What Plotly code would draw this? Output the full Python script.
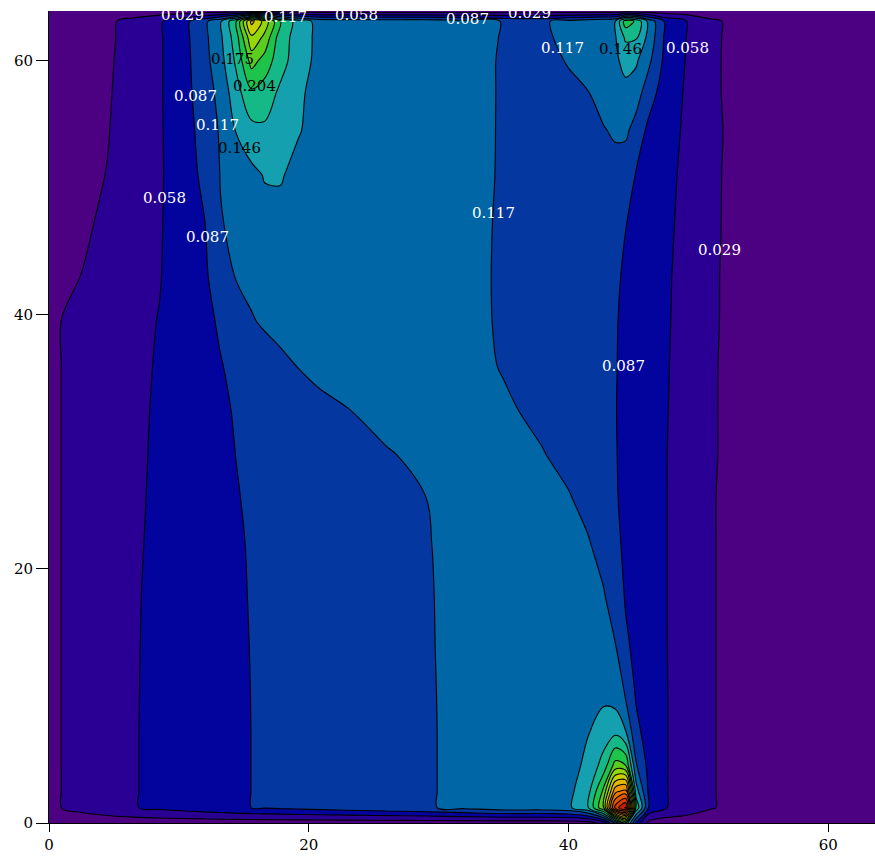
import plotly.graph_objects as go

# Grid node positions (data units) on which the field is sampled
x_nodes = [0, 1, 2.5, 4.5, 6.5, 8.5, 10.5, 12, 13.2, 14.4, 15.6, 16.6, 17.8, 19.2, 20.8,
           23, 26, 29, 32, 35, 38, 40, 41.5, 42.7, 43.6, 44.4, 45.2, 46.2, 47.5, 49, 51, 53, 63.6]
y_nodes = [0, 1.2, 2.5, 4.5, 7, 10, 14, 18, 22, 25.5, 29, 32.5, 36, 39.5, 43, 47, 51,
           54.5, 57.5, 60, 61.8, 63.1, 63.9]

# Field values, one row per y node (bottom to top)
row_0 = [0.012, 0.012, 0.012, 0.012, 0.012, 0.012, 0.012, 0.012, 0.012, 0.012, 0.012, 0.012, 0.012, 0.012, 0.012,
         0.012, 0.012, 0.012, 0.012, 0.012, 0.012, 0.012, 0.015, 0.040, 0.120, 0.200, 0.080, 0.020, 0.012, 0.012, 0.012, 0.012, 0.012]
row_1_2 = [0.015, 0.030, 0.0367, 0.0467, 0.0568, 0.0640, 0.0707, 0.0757, 0.0797, 0.0837, 0.0876, 0.0895, 0.0919, 0.0946, 0.0977,
           0.1020, 0.1078, 0.1137, 0.1234, 0.134, 0.134, 0.140, 0.172, 0.260, 0.450, 0.500, 0.200, 0.082, 0.0595, 0.0469, 0.0307, 0.022, 0.018]
row_2_5 = [0.015, 0.030, 0.0367, 0.0467, 0.0568, 0.0640, 0.0707, 0.0757, 0.0797, 0.0837, 0.0876, 0.0895, 0.0919, 0.0946, 0.0977,
           0.1020, 0.1078, 0.1137, 0.1234, 0.134, 0.134, 0.138, 0.165, 0.240, 0.370, 0.390, 0.160, 0.080, 0.0595, 0.0469, 0.0307, 0.022, 0.018]
row_4_5 = [0.015, 0.030, 0.0367, 0.0467, 0.0568, 0.0640, 0.0707, 0.0757, 0.0797, 0.0837, 0.0876, 0.0895, 0.0919, 0.0946, 0.0977,
           0.1020, 0.1078, 0.1137, 0.1234, 0.134, 0.134, 0.137, 0.151, 0.188, 0.245, 0.235, 0.120, 0.078, 0.0595, 0.0469, 0.0307, 0.022, 0.018]
row_7 = [0.015, 0.030, 0.0367, 0.0467, 0.0568, 0.0640, 0.0707, 0.0757, 0.0797, 0.0837, 0.0876, 0.0895, 0.0919, 0.0946, 0.0977,
         0.1020, 0.1078, 0.1137, 0.1234, 0.134, 0.134, 0.138, 0.145, 0.160, 0.172, 0.150, 0.095, 0.076, 0.0595, 0.0469, 0.0307, 0.022, 0.018]
row_10 = [0.015, 0.030, 0.0366, 0.0466, 0.0566, 0.0639, 0.0707, 0.0758, 0.0798, 0.0839, 0.0877, 0.0896, 0.0920, 0.0947, 0.0978,
          0.1021, 0.1079, 0.1138, 0.1237, 0.134, 0.134, 0.136, 0.138, 0.140, 0.132, 0.115, 0.085, 0.0745, 0.0595, 0.0469, 0.0307, 0.022, 0.018]
row_14 = [0.015, 0.030, 0.0365, 0.0464, 0.0563, 0.0638, 0.0708, 0.0760, 0.0801, 0.0843, 0.0880, 0.0899, 0.0923, 0.0950, 0.0981,
          0.1024, 0.1082, 0.1141, 0.1243, 0.134, 0.134, 0.1337, 0.1270, 0.1216, 0.1175, 0.0916, 0.0808, 0.0714, 0.0592, 0.0469, 0.0307, 0.022, 0.018]
row_18 = [0.015, 0.030, 0.0364, 0.0461, 0.0559, 0.0637, 0.0709, 0.0763, 0.0806, 0.0849, 0.0884, 0.0903, 0.0926, 0.0953, 0.0984,
          0.1027, 0.1085, 0.1143, 0.1247, 0.134, 0.134, 0.1306, 0.1238, 0.1184, 0.1020, 0.0849, 0.0783, 0.0699, 0.0591, 0.0469, 0.0307, 0.022, 0.018]
row_22 = [0.015, 0.030, 0.0362, 0.0456, 0.0550, 0.0632, 0.0708, 0.0764, 0.0810, 0.0855, 0.0888, 0.0907, 0.0930, 0.0958, 0.0989,
          0.1032, 0.1090, 0.1148, 0.1261, 0.134, 0.134, 0.1256, 0.1188, 0.1058, 0.0920, 0.0835, 0.0772, 0.0693, 0.0591, 0.0469, 0.0307, 0.022, 0.018]
row_25_5 = [0.015, 0.030, 0.0359, 0.0451, 0.0542, 0.0627, 0.0708, 0.0769, 0.0817, 0.0866, 0.0894, 0.0914, 0.0938, 0.0966, 0.0998,
            0.1042, 0.1102, 0.1162, 0.1292, 0.134, 0.1279, 0.1189, 0.1078, 0.0971, 0.0892, 0.0828, 0.0767, 0.0690, 0.0591, 0.0469, 0.0307, 0.022, 0.018]
row_29 = [0.015, 0.030, 0.0357, 0.0446, 0.0534, 0.0622, 0.0709, 0.0774, 0.0826, 0.0876, 0.0903, 0.0926, 0.0953, 0.0985, 0.1021,
          0.1071, 0.1139, 0.1247, 0.134, 0.1315, 0.1180, 0.1076, 0.0996, 0.0932, 0.0885, 0.0828, 0.0767, 0.0690, 0.0591, 0.0473, 0.0315, 0.022, 0.018]
row_32_5 = [0.015, 0.030, 0.0355, 0.0441, 0.0527, 0.0616, 0.0712, 0.0783, 0.0841, 0.0890, 0.0927, 0.0958, 0.0995, 0.1039, 0.1088,
            0.1157, 0.1288, 0.134, 0.134, 0.1211, 0.1091, 0.1016, 0.0960, 0.0915, 0.0881, 0.0829, 0.0770, 0.0695, 0.0598, 0.0478, 0.0315, 0.022, 0.018]
row_36 = [0.015, 0.030, 0.0354, 0.0437, 0.0520, 0.0605, 0.0718, 0.0799, 0.0863, 0.0926, 0.0989, 0.1041, 0.1103, 0.1175, 0.1247,
          0.134, 0.134, 0.134, 0.1270, 0.1145, 0.1053, 0.0993, 0.0947, 0.0910, 0.0883, 0.0837, 0.0777, 0.0702, 0.0605, 0.0483, 0.0316, 0.022, 0.018]
row_39_5 = [0.015, 0.030, 0.0352, 0.0433, 0.0514, 0.0592, 0.0725, 0.0818, 0.0904, 0.1025, 0.1146, 0.1202, 0.1256, 0.1319, 0.134,
            0.134, 0.134, 0.134, 0.1247, 0.1132, 0.1046, 0.0989, 0.0946, 0.0911, 0.0885, 0.0844, 0.0784, 0.0710, 0.0613, 0.0491, 0.0324, 0.022, 0.018]
row_43 = [0.015, 0.0209, 0.0296, 0.0393, 0.0491, 0.0570, 0.0732, 0.0839, 0.1002, 0.1180, 0.1234, 0.1279, 0.1333, 0.135, 0.135,
          0.134, 0.134, 0.134, 0.1243, 0.1130, 0.1046, 0.0991, 0.0949, 0.0916, 0.0891, 0.0859, 0.0797, 0.0721, 0.0621, 0.0497, 0.0325, 0.022, 0.018]
row_47 = [0.015, 0.0189, 0.0248, 0.0344, 0.0455, 0.0560, 0.0741, 0.0866, 0.1150, 0.1216, 0.128, 0.136, 0.139, 0.137, 0.135,
          0.134, 0.134, 0.134, 0.1247, 0.1133, 0.1051, 0.0997, 0.0956, 0.0923, 0.0899, 0.0877, 0.0819, 0.0740, 0.0638, 0.0512, 0.0335, 0.022, 0.018]
row_51 = [0.015, 0.0182, 0.0230, 0.0298, 0.0425, 0.0550, 0.0754, 0.0941, 0.1175, 0.126, 0.138, 0.1475, 0.1475, 0.140, 0.136,
          0.134, 0.134, 0.134, 0.1256, 0.1140, 0.1090, 0.1080, 0.1080, 0.1085, 0.1070, 0.0990, 0.0860, 0.0771, 0.0660, 0.0526, 0.0338, 0.022, 0.018]
row_54_5 = [0.015, 0.0179, 0.0223, 0.0280, 0.0410, 0.0552, 0.0773, 0.0984, 0.120, 0.147, 0.166, 0.170, 0.160, 0.147, 0.139,
            0.135, 0.134, 0.134, 0.1265, 0.1140, 0.1080, 0.1075, 0.1100, 0.1150, 0.1200, 0.122, 0.105, 0.080, 0.0697, 0.0544, 0.0349, 0.022, 0.018]
row_57_5 = [0.015, 0.0178, 0.0221, 0.0268, 0.0400, 0.0553, 0.0789, 0.1041, 0.125, 0.163, 0.199, 0.190, 0.170, 0.150, 0.137,
            0.135, 0.134, 0.134, 0.127, 0.1140, 0.1085, 0.1120, 0.1160, 0.1260, 0.1350, 0.1400, 0.1300, 0.100, 0.072, 0.0562, 0.0335, 0.022, 0.018]
row_60 = [0.015, 0.0177, 0.0218, 0.0258, 0.0390, 0.0552, 0.0798, 0.1076, 0.135, 0.180, 0.245, 0.222, 0.186, 0.160, 0.137,
          0.135, 0.134, 0.134, 0.127, 0.1140, 0.1100, 0.1180, 0.1260, 0.1340, 0.1420, 0.1520, 0.1500, 0.122, 0.078, 0.0580, 0.0335, 0.022, 0.018]
row_61_8 = [0.015, 0.0176, 0.0215, 0.0250, 0.0380, 0.0550, 0.0808, 0.1099, 0.140, 0.190, 0.285, 0.255, 0.188, 0.163, 0.137,
            0.135, 0.134, 0.134, 0.127, 0.1150, 0.1120, 0.1230, 0.1320, 0.1400, 0.143, 0.180, 0.178, 0.135, 0.080, 0.0590, 0.0338, 0.022, 0.018]
row_63_1 = [0.015, 0.0176, 0.0214, 0.0245, 0.0372, 0.0545, 0.0805, 0.1099, 0.142, 0.200, 0.330, 0.280, 0.205, 0.160, 0.137,
            0.135, 0.134, 0.134, 0.127, 0.1155, 0.1130, 0.1250, 0.1330, 0.1400, 0.1440, 0.220, 0.200, 0.135, 0.081, 0.0605, 0.034, 0.022, 0.018]
row_63_9 = [0.012, 0.012, 0.012, 0.012, 0.012, 0.012, 0.012, 0.012, 0.012, 0.012, 0.012, 0.012, 0.012, 0.012, 0.012,
            0.012, 0.012, 0.012, 0.012, 0.012, 0.012, 0.012, 0.012, 0.012, 0.012, 0.012, 0.012, 0.012, 0.012, 0.012, 0.012, 0.012, 0.012]

z_rows = [row_0, row_1_2, row_2_5, row_4_5, row_7, row_10, row_14, row_18, row_22, row_25_5,
          row_29, row_32_5, row_36, row_39_5, row_43, row_47, row_51, row_54_5, row_57_5,
          row_60, row_61_8, row_63_1, row_63_9]

for r in z_rows:
    if len(r) != len(x_nodes):
        raise ValueError("row length mismatch: %d" % len(r))

# Contour levels: 0.029, 0.058, 0.087, 0.117, 0.146, ... (20 levels)
level_step = 0.029145
n_levels = 20

# Fill colour of each band, from below the first level upwards
band_colors = [
    "rgb(76,0,130)", "rgb(42,0,148)", "rgb(3,3,158)", "rgb(5,55,160)", "rgb(0,102,165)",
    "rgb(20,160,175)", "rgb(20,185,135)", "rgb(30,195,75)", "rgb(90,205,30)", "rgb(150,215,10)",
    "rgb(200,210,0)", "rgb(225,185,0)", "rgb(235,150,0)", "rgb(235,120,0)", "rgb(225,90,0)",
    "rgb(215,60,0)", "rgb(200,35,0)", "rgb(185,15,0)", "rgb(165,0,0)", "rgb(145,0,0)", "rgb(125,0,0)",
]

# Level labels: which level (multiple of level_step) and where its text sits
label_level = [1, 4, 2, 3, 1, 6, 7, 3, 4, 5, 2, 3, 4, 1, 3, 4, 5, 2]
label_x = [10.3, 18.2, 23.7, 32.2, 37.0, 14.1, 15.8, 11.3, 13.0, 14.7, 8.9, 12.2, 34.2, 51.6, 44.2, 39.5, 44.0, 49.2]
label_y = [63.55, 63.45, 63.55, 63.3, 63.75, 60.1, 58.0, 57.2, 54.9, 53.1, 49.2, 46.1, 48.0, 45.1, 36.0, 61.0, 60.9, 61.0]


def stepped_scale(colors):
    """Piecewise-constant colorscale: one flat segment per contour band."""
    n = len(colors) - 1
    scale = []
    for i, c in enumerate(colors):
        lo = max(0.0, (i - 0.5) / n)
        hi = min(1.0, (i + 0.5) / n)
        scale.append([lo, c])
        scale.append([hi, c])
    return scale


label_font = "DejaVu Serif"

fig = go.Figure()

fig.add_trace(go.Contour(
    x=x_nodes, y=y_nodes, z=z_rows,
    autocontour=False,
    contours=dict(start=level_step, end=n_levels * level_step,
                  size=level_step, coloring="fill", showlabels=False),
    colorscale=stepped_scale(band_colors),
    line=dict(color="black", width=1.1, smoothing=1.0),
    showscale=False, hoverinfo="skip",
))

annotations = []
for k, lx, ly in zip(label_level, label_x, label_y):
    annotations.append(dict(
        x=lx, y=ly, xref="x", yref="y", showarrow=False,
        text="%.3f" % (k * level_step),
        font=dict(family=label_font, size=15, color="white" if k <= 4 else "black"),
        xanchor="center", yanchor="middle",
    ))

axis_common = dict(
    showgrid=False, zeroline=False, showline=True, linecolor="black", linewidth=1,
    ticks="outside", tickcolor="black", tickwidth=1,
    tickvals=[0, 20, 40, 60],
    tickfont=dict(family=label_font, size=15, color="black"),
)

fig.update_layout(
    width=875, height=856,
    margin=dict(l=49, r=0, t=11, b=33),
    paper_bgcolor="white", plot_bgcolor="white",
    showlegend=False,
    annotations=annotations,
    xaxis=dict(range=[0, 63.6], ticklen=8, **axis_common),
    yaxis=dict(range=[0, 63.9], ticklen=12, **axis_common),
)

fig.write_html("out.html")
